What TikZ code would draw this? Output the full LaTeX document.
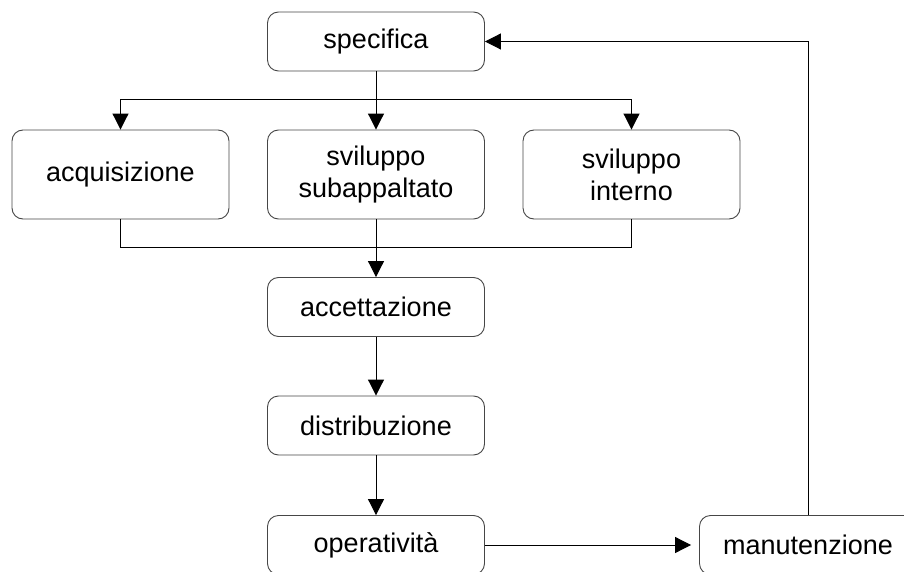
\documentclass[tikz,border=0pt]{standalone}
\usepackage{fontspec}
\setmainfont{Liberation Sans}
\usetikzlibrary{positioning,calc}
\usetikzlibrary{arrows.meta}
\definecolor{BoxLine}{RGB}{70,70,70}
\tikzset{
  phase/.style={draw=BoxLine,fill=white,rounded corners=11pt,line width=0.9pt,
    minimum width=217pt,minimum height=59pt,align=center,
    font=\fontsize{27}{32}\selectfont},
  tall/.style={minimum height=89pt},
  flow/.style={draw=black,line width=1pt,-{Triangle[length=16pt,width=16pt]}},
  wire/.style={draw=black,line width=1pt},
}
\begin{document}
\begin{tikzpicture}[x=1pt,y=1pt]
\useasboundingbox (0,0) rectangle (904,571);
\node[phase] (spec) at (376,529.5) {specifica};
\node[phase,tall] (acq) at (120.5,396.5) {acquisizione};
\node[phase,tall] (sub) at (376,396.5) {sviluppo\\subappaltato};
\node[phase,tall] (int) at (631.5,396.5) {sviluppo\\interno};
\node[phase] (acc) at (376,264) {accettazione};
\node[phase] (dist) at (376,145.5) {distribuzione};
\node[phase] (oper) at (376,26) {operatività};
\node[phase] (man) at (808,26) {manutenzione};
\coordinate (fork) at (376,471);
\coordinate (join) at (376,323);
% fork to the three ways of getting the software
\draw[wire] (spec.south) -- (fork);
\draw[flow] (fork) -| (acq.north);
\draw[flow] (fork) -- (sub.north);
\draw[flow] (fork) -| (int.north);
% join into acceptance
\draw[wire] (acq.south) |- (join);
\draw[wire] (int.south) |- (join);
\draw[flow] (sub.south) -- (acc.north);
\draw[flow] (acc) -- (dist);
\draw[flow] (dist) -- (oper);
\draw[flow,shorten >=8pt] (oper) -- (man);
\draw[flow] (man.north) |- (spec.east);
\end{tikzpicture}
\end{document}
